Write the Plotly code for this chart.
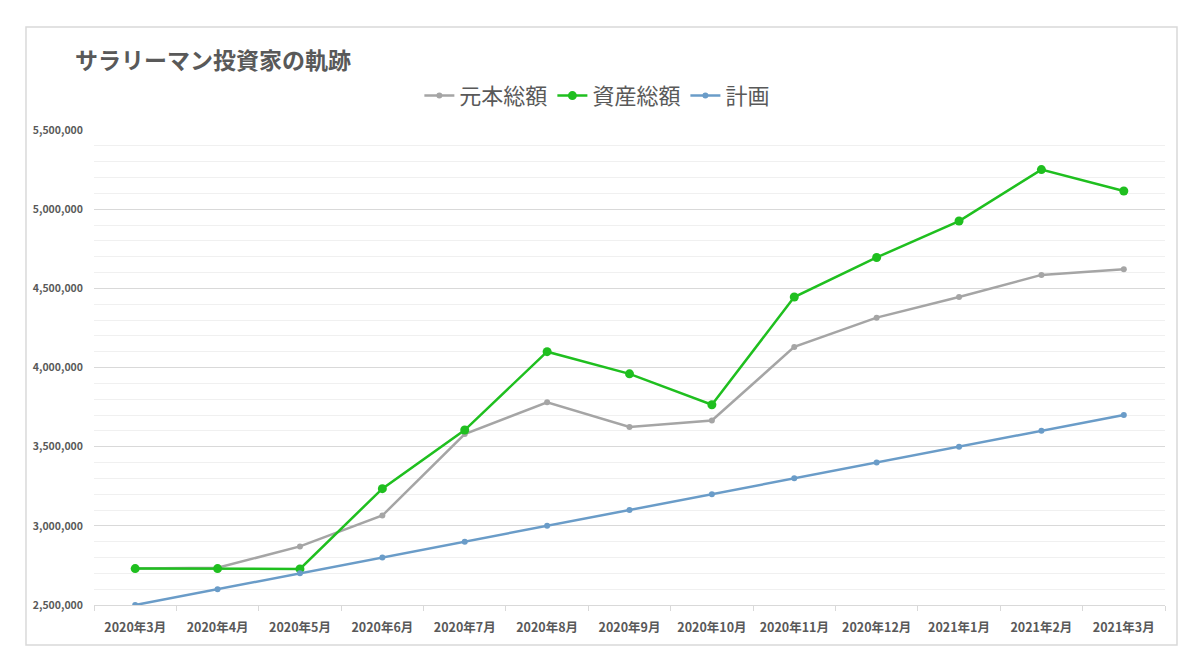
import plotly.graph_objects as go

# data
months = ['2020年3月', '2020年4月', '2020年5月', '2020年6月', '2020年7月', '2020年8月',
          '2020年9月', '2020年10月', '2020年11月', '2020年12月', '2021年1月', '2021年2月', '2021年3月']
principal = [2730000, 2735000, 2870000, 3065000, 3580000, 3780000, 3625000,
             3665000, 4130000, 4315000, 4445000, 4585000, 4620000]
assets = [2730000, 2730000, 2728000, 3235000, 3605000, 4100000, 3960000,
          3765000, 4445000, 4695000, 4925000, 5250000, 5115000]
plan = [2500000, 2600000, 2700000, 2800000, 2900000, 3000000, 3100000,
        3200000, 3300000, 3400000, 3500000, 3600000, 3700000]
y_ticks = [2500000, 3000000, 3500000, 4000000, 4500000, 5000000, 5500000]

FONT = 'Noto Sans CJK JP'
TXT = '#595959'

fig = go.Figure()
fig.add_trace(go.Scatter(x=months, y=principal, name='元本総額', mode='lines+markers',
                         line=dict(color='#a5a5a5', width=2.5),
                         marker=dict(size=6, color='#a5a5a5')))
fig.add_trace(go.Scatter(x=months, y=assets, name='資産総額', mode='lines+markers',
                         line=dict(color='#1fbf1f', width=2.5),
                         marker=dict(size=9, color='#1fbf1f')))
fig.add_trace(go.Scatter(x=months, y=plan, name='計画', mode='lines+markers',
                         line=dict(color='#6a9cc8', width=2.5),
                         marker=dict(size=6, color='#6a9cc8')))

# outer chart frame (Excel style)
fig.add_shape(type='rect', xref='paper', yref='paper',
              x0=-0.0635, x1=1.0112, y0=-0.0842, y1=1.2168,
              line=dict(color='#d9d9d9', width=1.5), layer='below')

# page body adds an 8px margin, so the figure is a bit smaller than the window
fig.update_layout(
    width=1184, height=648,
    margin=dict(l=86, r=27, t=122, b=51),
    paper_bgcolor='white', plot_bgcolor='white',
    font=dict(family=FONT, color=TXT),
    title=dict(text='<b>サラリーマン投資家の軌跡</b>', x=0.0566, xanchor='left',
               y=0.918, yanchor='middle', font=dict(size=23, color=TXT, family=FONT)),
    legend=dict(orientation='h', x=0.47, xanchor='center', y=1.072, yanchor='middle',
                font=dict(size=22, color=TXT, family=FONT), itemwidth=30,
                traceorder='normal'),
    showlegend=True,
    hovermode='x unified',
)

fig.update_xaxes(type='category', range=[-0.5, 12.5], showgrid=False,
                 showline=True, linecolor='#d9d9d9', linewidth=1,
                 ticks='outside', tickson='boundaries', ticklen=5, tickcolor='#d9d9d9',
                 ticklabelstandoff=11,
                 tickfont=dict(size=12.5, color=TXT, family=FONT, weight='bold'))
fig.update_yaxes(range=[2500000, 5500000], tickvals=y_ticks, tickformat=',d',
                 showgrid=True, gridcolor='#d9d9d9', gridwidth=1,
                 minor=dict(dtick=100000, showgrid=True, gridcolor='#f0f0f0', gridwidth=1),
                 zeroline=False, showline=False, ticks='', ticklabelstandoff=10,
                 tickfont=dict(size=10.5, color=TXT, family=FONT, weight='bold'))

fig.write_html('out.html')
